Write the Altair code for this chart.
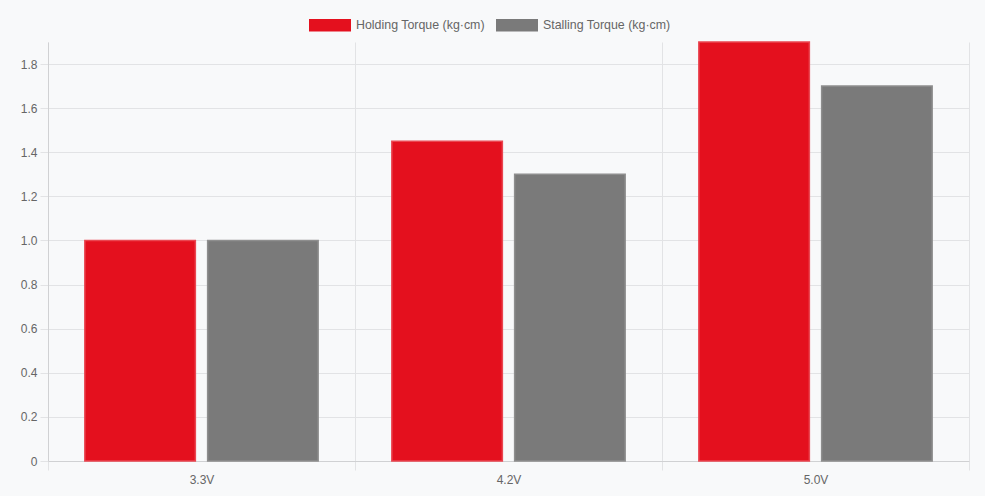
import altair as alt
import pandas as pd

categories = ["3.3V", "4.2V", "5.0V"]
series = ["Holding Torque (kg·cm)", "Stalling Torque (kg·cm)"]
holding = [1.0, 1.45, 1.9]
stalling = [1.0, 1.3, 1.7]
y_ticks = [0, 0.2, 0.4, 0.6, 0.8, 1.0, 1.2, 1.4, 1.6, 1.8]

rows = []
for i, c in enumerate(categories):
    rows.append({"cat": c, "series": series[0], "value": holding[i]})
    rows.append({"cat": c, "series": series[1], "value": stalling[i]})
df = pd.DataFrame(rows)

FONT = "Liberation Sans"

bars = alt.Chart(df).mark_bar(strokeWidth=1.5).encode(
    x=alt.X("cat:N", sort=categories, title=None,
            scale=alt.Scale(paddingInner=0, paddingOuter=0),
            axis=alt.Axis(tickBand="extent", grid=True, gridColor="#e2e3e5",
                          tickColor="#e2e3e5", tickSize=9, domainColor="#d0d1d3",
                          labelAngle=0, labelColor="#666666", labelFontSize=12,
                          labelFont=FONT, labelPadding=4)),
    xOffset=alt.XOffset("series:N", sort=series,
                        scale=alt.Scale(paddingInner=0.1, paddingOuter=0.3)),
    y=alt.Y("value:Q", title=None,
            scale=alt.Scale(domain=[0, 1.9], nice=False, zero=True),
            axis=alt.Axis(values=y_ticks, grid=True, gridColor="#e2e3e5",
                          tickColor="#e2e3e5", tickSize=8, domainColor="#d0d1d3",
                          labelColor="#666666", labelFontSize=12, labelFont=FONT,
                          labelPadding=3,
                          labelExpr="datum.value == 0 ? '0' : format(datum.value, '.1f')")),
    color=alt.Color("series:N", sort=series,
                    scale=alt.Scale(domain=series, range=["#e4101e", "#7a7a7a"]),
                    legend=alt.Legend(title=None, orient="none", direction="horizontal",
                                      legendX=261, legendY=-38,
                                      symbolType="M-1,-0.3L1,-0.3L1,0.3L-1,0.3Z",
                                      symbolSize=1764, symbolStrokeWidth=0,
                                      symbolOpacity=1,
                                      labelColor="#666666", labelFontSize=12.4,
                                      labelFont=FONT, labelOffset=5,
                                      columnPadding=11)),
    stroke=alt.Stroke("series:N", sort=series,
                      scale=alt.Scale(domain=series, range=["#ea4650", "#8e8e8e"]),
                      legend=None),
)

chart = bars.properties(
    width=921, height=419,
    background="#f8f9fa",
    padding={"left": 48, "top": 42, "right": 16, "bottom": 35},
    autosize=alt.AutoSizeParams(type="none"),
).configure_view(stroke=None)

chart.save("out.html", embed_options={"renderer": "svg", "actions": False})
